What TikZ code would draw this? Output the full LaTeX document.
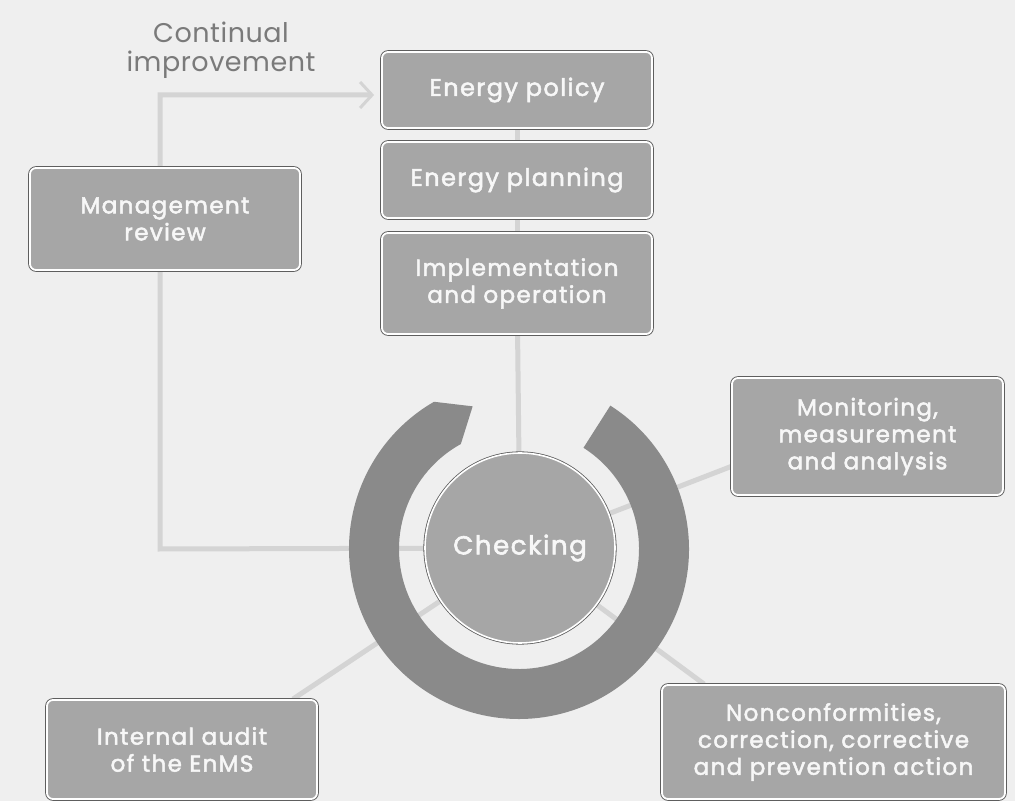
\documentclass[tikz,border=0pt]{standalone}
\usepackage{fontspec}
\setmainfont{Poppins}
\newfontfamily\boxfont{Poppins}[FakeBold=2.2, LetterSpace=6]
\newfontfamily\labfont{Poppins}[LetterSpace=2]
\usetikzlibrary{arrows.meta,calc}
\pgfdeclarelayer{bg}
\pgfdeclarelayer{lines}
\pgfsetlayers{bg,lines,main}
\definecolor{bgc}{HTML}{EFEFEF}
\definecolor{boxc}{HTML}{A6A6A6}
\definecolor{rimc}{HTML}{5E5E5E}
\definecolor{ringc}{HTML}{8A8A8A}
\definecolor{linec}{HTML}{D4D4D4}
\definecolor{labc}{HTML}{7A7A7A}
\definecolor{txtc}{HTML}{F7F7F7}
\tikzset{
  box/.style={rectangle, rounded corners=6pt, fill=boxc, draw=white, line width=1.8pt,
    preaction={draw=rimc, line width=3.6pt}, text=txtc, align=center,
    font=\boxfont\fontsize{23}{27}\selectfont, inner sep=0pt},
  bigbox/.style={box, font=\boxfont\fontsize{24}{27}\selectfont},
  chkbox/.style={circle, fill=boxc, draw=white, line width=1.6pt,
    preaction={draw=rimc, line width=3.2pt}, text=txtc,
    font=\boxfont\fontsize{26}{27}\selectfont, inner sep=0pt, minimum size=190pt},
  conn/.style={draw=linec, line width=5pt},
  lab/.style={text=labc, align=center, font=\labfont\fontsize{27}{29}\selectfont}
}
\begin{document}
\begin{tikzpicture}[x=1pt,y=1pt]
\useasboundingbox (0,0) rectangle (1015,801);
\begin{pgfonlayer}{bg}
\fill[bgc] (0,0) rectangle (1015,801);
\end{pgfonlayer}

% boxes
\node[bigbox, minimum width=270pt, minimum height=76pt] (pol) at (517,711) {Energy policy};
\node[bigbox, minimum width=270pt, minimum height=76pt] (pla) at (517,621) {Energy planning};
\node[box, minimum width=270pt, minimum height=101pt] (imp) at (517,517.5) {Implementation\\and operation};
\node[box, minimum width=270pt, minimum height=102pt] (mgm) at (165,582) {Management\\review};
\node[box, minimum width=271pt, minimum height=117pt] (mon) at (867.5,364.5) {Monitoring,\\measurement\\and analysis};
\node[box, minimum width=343pt, minimum height=114pt] (non) at (833.5,59) {Nonconformities,\\correction, corrective\\and prevention action};
\node[box, minimum width=270pt, minimum height=99pt] (aud) at (182,51.5) {Internal audit\\of the EnMS};

\node[lab] (ci) at (221,751) {Continual\\improvement};

% ring
\coordinate (C) at (519,252);
\fill[ringc] ($(C)+(57.5:170)$) arc[start angle=57.5, end angle=-240, radius=170]
  -- ($(C)+(108:150)$) -- ($(C)+(119:120)$)
  arc[start angle=-241, end angle=57.5, radius=120] -- cycle;

% checking circle
\node[chkbox] (chk) at (520,253) {Checking};

% connectors
\coordinate (fb1) at (160,252);
\coordinate (fb2) at (160,706);
\begin{pgfonlayer}{lines}
\draw[conn] (pol) -- (pla);
\draw[conn] (pla) -- (imp);
\draw[conn] (imp) -- (chk.center);
\draw[conn] (chk.center) -- ([yshift=-30pt]mon.west);
\draw[conn] (chk.center) -- ([xshift=43pt]non.north west);
\draw[conn] (chk.center) -- ([xshift=-25pt]aud.north east);
\draw[conn, -{Straight Barb[length=12pt,width=26pt,line width=3pt]}, shorten >=7pt]
  (chk.center) -- (fb1) -- (fb2) -- ([yshift=-5pt]pol.west);
\end{pgfonlayer}
\end{tikzpicture}
\end{document}
